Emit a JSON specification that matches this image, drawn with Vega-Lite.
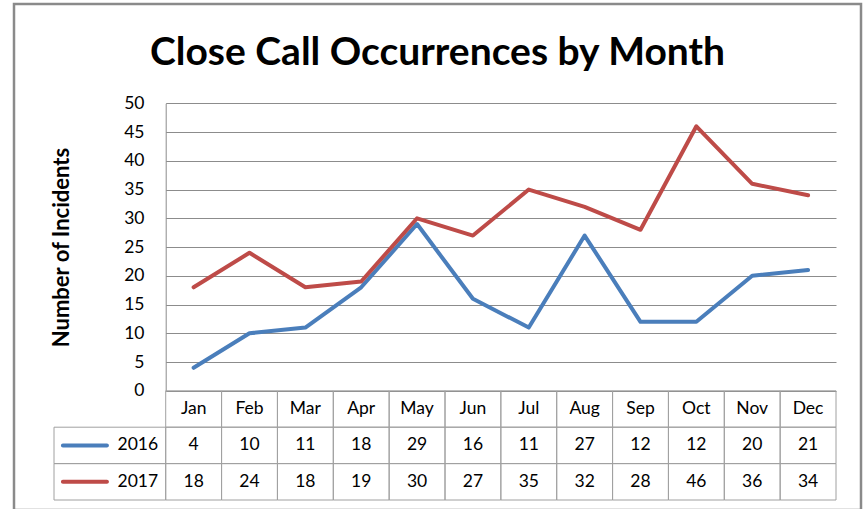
{
  "$schema": "https://vega.github.io/schema/vega-lite/v6.json",
  "width": 847,
  "height": 506,
  "autosize": "none",
  "padding": {"left": 14, "top": 4, "right": 2, "bottom": 0},
  "background": "white",
  "config": {
    "view": {"stroke": "#8a8a8a", "strokeWidth": 2.5},
    "font": "Lato"
  },
  "title": {
    "text": "Close Call Occurrences by Month",
    "font": "Lato",
    "fontSize": 39,
    "fontWeight": "bold",
    "color": "#000000",
    "anchor": "middle",
    "frame": "group",
    "baseline": "alphabetic",
    "offset": -58,
    "dy": 42
  },
  "datasets": {
    "incidents": [
      {"month": "Jan", "series": "2016", "value": 4},
      {"month": "Feb", "series": "2016", "value": 10},
      {"month": "Mar", "series": "2016", "value": 11},
      {"month": "Apr", "series": "2016", "value": 18},
      {"month": "May", "series": "2016", "value": 29},
      {"month": "Jun", "series": "2016", "value": 16},
      {"month": "Jul", "series": "2016", "value": 11},
      {"month": "Aug", "series": "2016", "value": 27},
      {"month": "Sep", "series": "2016", "value": 12},
      {"month": "Oct", "series": "2016", "value": 12},
      {"month": "Nov", "series": "2016", "value": 20},
      {"month": "Dec", "series": "2016", "value": 21},
      {"month": "Jan", "series": "2017", "value": 18},
      {"month": "Feb", "series": "2017", "value": 24},
      {"month": "Mar", "series": "2017", "value": 18},
      {"month": "Apr", "series": "2017", "value": 19},
      {"month": "May", "series": "2017", "value": 30},
      {"month": "Jun", "series": "2017", "value": 27},
      {"month": "Jul", "series": "2017", "value": 35},
      {"month": "Aug", "series": "2017", "value": 32},
      {"month": "Sep", "series": "2017", "value": 28},
      {"month": "Oct", "series": "2017", "value": 46},
      {"month": "Nov", "series": "2017", "value": 36},
      {"month": "Dec", "series": "2017", "value": 34}
    ]
  },
  "layer": [
    {
      "data": {"name": "incidents"},
      "mark": {"type": "line", "strokeWidth": 4, "strokeCap": "round", "strokeJoin": "round"},
      "encoding": {
        "x": {
          "field": "month",
          "type": "nominal",
          "sort": null,
          "scale": {
            "type": "point",
            "domain": ["Jan", "Feb", "Mar", "Apr", "May", "Jun", "Jul", "Aug", "Sep", "Oct", "Nov", "Dec"],
            "range": [151.7, 822],
            "padding": 0.5
          },
          "axis": null
        },
        "y": {
          "field": "value",
          "type": "quantitative",
          "scale": {"domain": [0, 50], "range": [386.8, 99.3], "nice": false, "zero": false},
          "axis": {
            "orient": "left",
            "offset": -151.7,
            "values": [0, 5, 10, 15, 20, 25, 30, 35, 40, 45, 50],
            "ticks": false,
            "grid": true,
            "gridColor": "#8c8c8c",
            "gridWidth": 1,
            "domain": true,
            "domainColor": "#8c8c8c",
            "domainWidth": 1,
            "labelFont": "Lato",
            "labelFontSize": 17.5,
            "labelColor": "#000000",
            "labelPadding": 21.7,
            "title": "Number of Incidents",
            "titleFont": "Lato",
            "titleFontSize": 22,
            "titleFontWeight": "bold",
            "titleColor": "#000000",
            "titlePadding": 50
          }
        },
        "color": {
          "field": "series",
          "type": "nominal",
          "scale": {"domain": ["2016", "2017"], "range": ["#4a7ebb", "#be4b48"]},
          "legend": null
        }
      }
    },
    {
      "layer": [
        {
          "data": {"name": "incidents"},
          "mark": {"type": "rect", "fillOpacity": 0, "fill": "white", "stroke": "#a0a0a0", "strokeWidth": 1},
          "encoding": {
            "x": {
              "field": "month",
              "type": "nominal",
              "scale": {
                "type": "band",
                "domain": ["L1", "L2", "Jan", "Feb", "Mar", "Apr", "May", "Jun", "Jul", "Aug", "Sep", "Oct", "Nov", "Dec"],
                "range": [40, 822],
                "paddingInner": 0,
                "paddingOuter": 0
              },
              "axis": null
            },
            "y": {
              "field": "series",
              "type": "nominal",
              "scale": {
                "type": "band",
                "domain": ["Month", "2016", "2017"],
                "range": [386.8, 496],
                "paddingInner": 0,
                "paddingOuter": 0
              },
              "axis": null
            }
          }
        },
        {
          "data": {"name": "incidents"},
          "transform": [{"filter": "datum.series == '2016'"}],
          "mark": {"type": "rect", "fillOpacity": 0, "fill": "white", "stroke": "#a0a0a0", "strokeWidth": 1},
          "encoding": {
            "x": {"field": "month", "type": "nominal"},
            "y": {"datum": "Month", "type": "nominal"}
          }
        },
        {
          "data": {"name": "incidents"},
          "transform": [{"filter": "datum.month == 'Jan'"}],
          "mark": {"type": "rect", "fillOpacity": 0, "fill": "white", "stroke": "#a0a0a0", "strokeWidth": 1},
          "encoding": {
            "x": {"datum": "L1", "type": "nominal", "bandPosition": 0},
            "x2": {"datum": "L2", "bandPosition": 1},
            "y": {"field": "series", "type": "nominal"}
          }
        },
        {
          "data": {"name": "incidents"},
          "mark": {"type": "text", "font": "Lato", "fontSize": 17.5, "color": "#000000", "align": "center", "baseline": "middle"},
          "encoding": {
            "x": {"field": "month", "type": "nominal"},
            "y": {"field": "series", "type": "nominal"},
            "text": {"field": "value"}
          }
        },
        {
          "data": {"name": "incidents"},
          "transform": [{"filter": "datum.series == '2016'"}],
          "mark": {"type": "text", "font": "Lato", "fontSize": 17.5, "color": "#000000", "align": "center", "baseline": "middle"},
          "encoding": {
            "x": {"field": "month", "type": "nominal"},
            "y": {"datum": "Month", "type": "nominal"},
            "text": {"field": "month"}
          }
        },
        {
          "data": {"name": "incidents"},
          "transform": [{"filter": "datum.month == 'Jan'"}],
          "mark": {"type": "text", "font": "Lato", "fontSize": 17.5, "color": "#000000", "align": "center", "baseline": "middle"},
          "encoding": {
            "x": {"datum": "L2", "type": "nominal"},
            "y": {"field": "series", "type": "nominal"},
            "text": {"field": "series"}
          }
        },
        {
          "data": {"name": "incidents"},
          "transform": [{"filter": "datum.month == 'Jan'"}],
          "mark": {"type": "tick", "orient": "horizontal", "size": 48, "thickness": 4, "xOffset": 3, "cornerRadius": 2, "opacity": 1},
          "encoding": {
            "x": {"datum": "L1", "type": "nominal"},
            "y": {"field": "series", "type": "nominal"},
            "color": {
              "field": "series",
              "type": "nominal",
              "scale": {"domain": ["2016", "2017"], "range": ["#4a7ebb", "#be4b48"]},
              "legend": null
            }
          }
        }
      ]
    }
  ],
  "resolve": {"scale": {"x": "independent", "y": "independent", "color": "independent"}}
}
